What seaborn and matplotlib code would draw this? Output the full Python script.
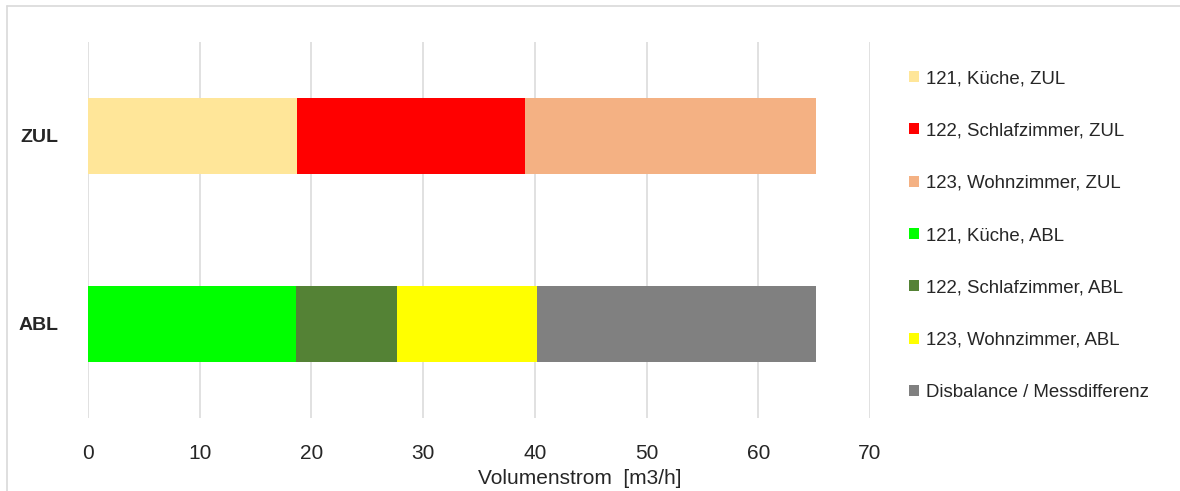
import pandas as pd
import numpy as np
import matplotlib
matplotlib.use("Agg")
import matplotlib.pyplot as plt
from matplotlib.patches import Patch
from matplotlib.lines import Line2D
import seaborn as sns

# data
categories = ["ZUL", "ABL"]
series_labels = [
    "121, Küche, ZUL",
    "122, Schlafzimmer, ZUL",
    "123, Wohnzimmer, ZUL",
    "121, Küche, ABL",
    "122, Schlafzimmer, ABL",
    "123, Wohnzimmer, ABL",
    "Disbalance / Messdifferenz",
]
series_category = ["ZUL", "ZUL", "ZUL", "ABL", "ABL", "ABL", "ABL"]
series_values = [18.7, 20.4, 26.1, 18.6, 9.1, 12.5, 25.0]
series_colors = ["#FFE699", "#FF0000", "#F4B183", "#00FF00", "#548235", "#FFFF00", "#808080"]
x_ticks = [0, 10, 20, 30, 40, 50, 60, 70]
x_label = "Volumenstrom  [m3/h]"

df = pd.DataFrame({
    "Label": series_labels,
    "Kategorie": series_category,
    "Wert": series_values,
    "Farbe": series_colors,
})
# stacked bars: cumulative end of each segment within its category
df["Ende"] = df.groupby("Kategorie")["Wert"].cumsum()

sns.set_style("white")
plt.rcParams["font.family"] = ["Liberation Sans", "DejaVu Sans"]

fig = plt.figure(figsize=(11.8, 4.91), dpi=100)
ax = fig.add_axes([88 / 1180, 1 - 418 / 491, 782 / 1180, 376 / 491])

# draw longest first so the shorter segments sit on top
for _, row in df.sort_values("Ende", ascending=False).iterrows():
    sns.barplot(
        x=[row["Ende"]], y=[row["Kategorie"]], order=categories,
        orient="h", color=row["Farbe"], saturation=1, width=0.4,
        linewidth=0, ax=ax,
    )

ax.set_xlim(0, 70)
ax.set_ylim(1.5, -0.5)
ax.set_xticks(x_ticks)
ax.set_xticklabels([str(t) for t in x_ticks], fontsize=15)
ax.set_yticks(range(len(categories)))
ax.set_yticklabels(categories, fontsize=14, fontweight="bold")
ax.tick_params(axis="x", length=0, pad=19)
ax.tick_params(axis="y", length=0, pad=21)
ax.set_xlabel("")
ax.set_ylabel("")
ax.grid(axis="x", color="#d9d9d9", linewidth=1.1)
ax.set_axisbelow(True)
for s in ax.spines.values():
    s.set_visible(False)

fig.text(580 / 1180, 1 - 478 / 491, x_label, fontsize=15, ha="center", va="center")

handles = [Patch(facecolor=c, edgecolor="none") for c in series_colors]
fig.legend(
    handles, series_labels, loc="upper left",
    bbox_to_anchor=(909 / 1180, 1 - 70 / 491),
    frameon=False, fontsize=13.4, handlelength=0.52, handleheight=0.52,
    handletextpad=0.4, labelspacing=1.9, borderpad=0, borderaxespad=0,
)

# light frame on top and left edge, like the reference crop
fig.add_artist(Line2D([7 / 1180, 7 / 1180], [0, 1 - 6 / 491], transform=fig.transFigure,
                      color="#d9d9d9", linewidth=1.2))
fig.add_artist(Line2D([7 / 1180, 1], [1 - 6 / 491, 1 - 6 / 491], transform=fig.transFigure,
                      color="#d9d9d9", linewidth=1.2))

fig.savefig("out.png", dpi=100)
